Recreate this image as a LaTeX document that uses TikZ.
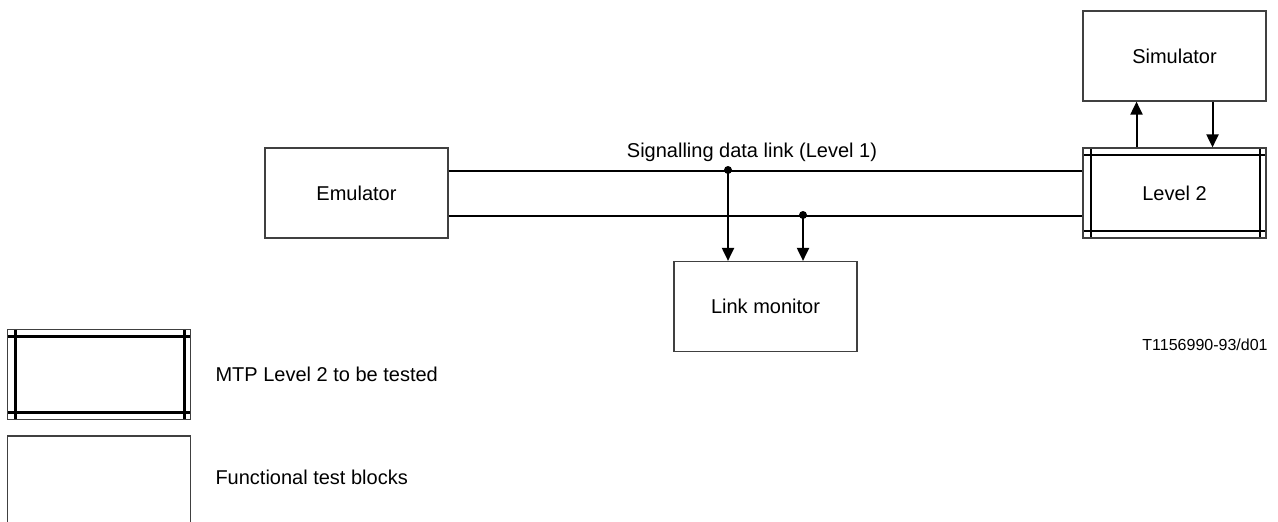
\documentclass[tikz,border=0pt]{standalone}
\usepackage{fontspec}
\setmainfont{Liberation Sans}
\usepackage{tikz}
\usetikzlibrary{arrows.meta,positioning}

\begin{document}
\begin{tikzpicture}[x=0.5pt,y=-0.5pt, every node/.style={font=\fontsize{10}{12}\selectfont}]
\tikzset{block/.style = {shape=rectangle,draw=black!75,line width=0.6pt,minimum width=91.5pt,minimum height=45pt,inner sep=0pt}}
\tikzset{frame/.style = {draw=black,line width=1.4pt}}
\tikzset{dut/.style = {block, path picture={
  \draw[frame] ([yshift=-3.5pt]path picture bounding box.north west) -- ([yshift=-3.5pt]path picture bounding box.north east);
  \draw[frame] ([yshift=3.5pt]path picture bounding box.south west) -- ([yshift=3.5pt]path picture bounding box.south east);
  \draw[frame] ([xshift=4pt]path picture bounding box.north west) -- ([xshift=4pt]path picture bounding box.south west);
  \draw[frame] ([xshift=-3pt]path picture bounding box.north east) -- ([xshift=-3pt]path picture bounding box.south east);}}}
\tikzset{edge/.style = {draw=black, line width=1pt, ->, >={Triangle[length=6.5pt,width=6pt]}}}
\tikzset{link/.style = {draw=black, line width=1pt}}
\useasboundingbox (0,0) rectangle (1278,521);
% main
\node[block] (emu) at (356.5,193) {Emulator};
\node[dut] (lvl2) at (1174.5,193) {Level 2};
\node[block] (sim) at (1174.5,56) {Simulator};
\node[block] (mon) at (765.5,306.5) {Link monitor};
\node (sdl) at (752,152) {Signalling data link (Level 1)};
\node[font=\fontsize{8}{10}\selectfont] (ref) at (1205,345) {T1156990-93/d01};
% legend
\node[dut] (leg1) at (99,374.5) {};
\node[block] (leg2) at (99,481) {};
\node[right=12pt of leg1, inner sep=0pt] (leg1txt) {MTP Level 2 to be tested};
\node[right=12pt of leg2, inner sep=0pt, yshift=2pt] (leg2txt) {Functional test blocks};
% junctions
\coordinate (j1) at (728,170);
\coordinate (j2) at (803,215);
%edges
\draw[link] ([yshift=11.25pt]emu.east) -- ([yshift=11.25pt]lvl2.west);
\draw[link] ([yshift=-11.25pt]emu.east) -- ([yshift=-11.25pt]lvl2.west);
\fill (j1) circle (2pt);
\fill (j2) circle (2pt);
\draw[edge] (j1) -- (j1 |- mon.north);
\draw[edge] (j2) -- (j2 |- mon.north);
\draw[edge] ([xshift=-19pt]lvl2.north) -- ([xshift=-19pt]sim.south);
\draw[edge] ([xshift=19pt]sim.south) -- ([xshift=19pt]lvl2.north);

\end{tikzpicture}
\end{document}
